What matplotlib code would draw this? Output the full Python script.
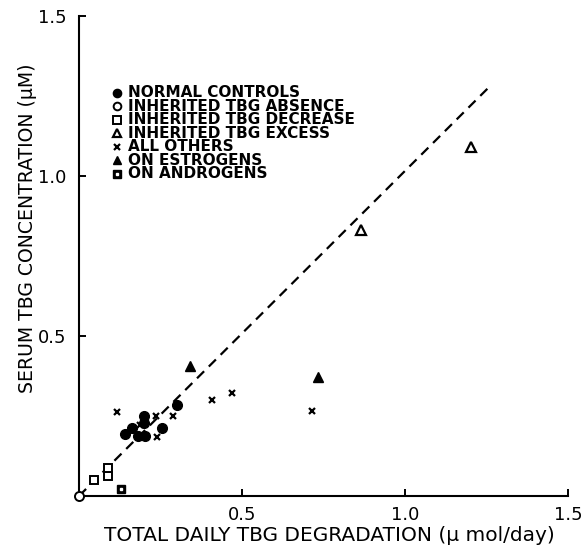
"""Serum TBG concentration vs total daily TBG degradation."""

import matplotlib

matplotlib.use("Agg")
import matplotlib.pyplot as plt

# data (x: umol/day, y: uM)
normal_x = [0.141, 0.162, 0.199, 0.199, 0.182, 0.202, 0.256, 0.300]
normal_y = [0.194, 0.212, 0.251, 0.227, 0.188, 0.188, 0.213, 0.284]
absence_x = [0.0]
absence_y = [0.0]
decrease_x = [0.046, 0.088, 0.088]
decrease_y = [0.050, 0.063, 0.087]
excess_x = [0.865, 1.201]
excess_y = [0.831, 1.092]
others_x = [0.118, 0.407, 0.470, 0.714, 0.236, 0.287, 0.240, 0.187]
others_y = [0.263, 0.300, 0.323, 0.266, 0.250, 0.250, 0.185, 0.222]
estrogen_x = [0.340, 0.732]
estrogen_y = [0.406, 0.371]
androgen_x = [0.129]
androgen_y = [0.021]
line_x = [0.0, 1.26]
line_y = [0.0, 1.28]

x_ticks = [0.5, 1.0, 1.5]
y_ticks = [0.5, 1.0, 1.5]
x_tick_labels = ["0.5", "1.0", "1.5"]
y_tick_labels = ["0.5", "1.0", "1.5"]

LEGEND_LABELS = [
    "NORMAL CONTROLS",
    "INHERITED TBG ABSENCE",
    "INHERITED TBG DECREASE",
    "INHERITED TBG EXCESS",
    "ALL OTHERS",
    "ON ESTROGENS",
    "ON ANDROGENS",
]

# marker styles per group (legend uses the same, slightly smaller)
STYLES = [
    dict(marker="o", ms=7, mfc="black", mec="black"),
    dict(marker="o", ms=6.5, mfc="white", mec="black", mew=1.4),
    dict(marker="s", ms=6, mfc="white", mec="black", mew=1.4),
    dict(marker="^", ms=6.5, mfc="white", mec="black", mew=1.6),
    dict(marker="x", ms=4.5, mfc="black", mec="black", mew=1.6),
    dict(marker="^", ms=6.5, mfc="black", mec="black"),
    dict(marker="s", ms=6, mfc="black", mec="black"),
]
INNER = dict(marker="s", ms=2, mfc="white", mec="white")

plt.rcParams["font.family"] = ["DejaVu Sans"]

fig = plt.figure(figsize=(5.82, 5.5), dpi=100)
ax = fig.add_axes([79 / 582, 1 - 496 / 550, 489 / 582, 480 / 550])

ax.plot(line_x, line_y, color="black", lw=1.6, ls=(0, (4.5, 3)), zorder=1)

groups = [
    (normal_x, normal_y),
    (absence_x, absence_y),
    (decrease_x, decrease_y),
    (excess_x, excess_y),
    (others_x, others_y),
    (estrogen_x, estrogen_y),
    (androgen_x, androgen_y),
]
for (gx, gy), style in zip(groups, STYLES):
    ax.plot(gx, gy, ls="none", zorder=3, clip_on=False, **style)
ax.plot(androgen_x, androgen_y, ls="none", zorder=4, **INNER)

ax.set_xlim(0, 1.5)
ax.set_ylim(0, 1.5)
ax.set_xticks(x_ticks)
ax.set_xticklabels(x_tick_labels)
ax.set_yticks(y_ticks)
ax.set_yticklabels(y_tick_labels)
ax.tick_params(direction="in", length=5, width=1.4, labelsize=13, pad=7)
ax.tick_params(axis="y", pad=9)
for side in ("top", "right"):
    ax.spines[side].set_visible(False)
for side in ("left", "bottom"):
    ax.spines[side].set_linewidth(1.5)

ax.set_xlabel("TOTAL DAILY TBG DEGRADATION (\u03bc mol/day)", fontsize=14.5)
ax.set_ylabel("SERUM TBG CONCENTRATION (\u03bcM)", fontsize=13.6)
ax.xaxis.set_label_coords(0.513, -0.062)
ax.yaxis.set_label_coords(-0.086, 0.558)

# hand-placed legend (no frame, tight rows like the original)
row_top = (496 - 92.7) / 480
row_step = 13.55 / 480
marker_x = (117 - 79) / 489
text_x = (128 - 79) / 489
for i, (label, style) in enumerate(zip(LEGEND_LABELS, STYLES)):
    ry = row_top - i * row_step
    small = dict(style)
    small["ms"] = style["ms"] * 0.85
    ax.plot([marker_x], [ry], ls="none", transform=ax.transAxes, clip_on=False, **small)
    if label == "ON ANDROGENS":
        ax.plot([marker_x], [ry], ls="none", transform=ax.transAxes, zorder=4, **INNER)
    ax.text(text_x, ry, label, transform=ax.transAxes, fontsize=11,
            fontweight="bold", va="center", ha="left")

fig.savefig("out.png", dpi=100)
